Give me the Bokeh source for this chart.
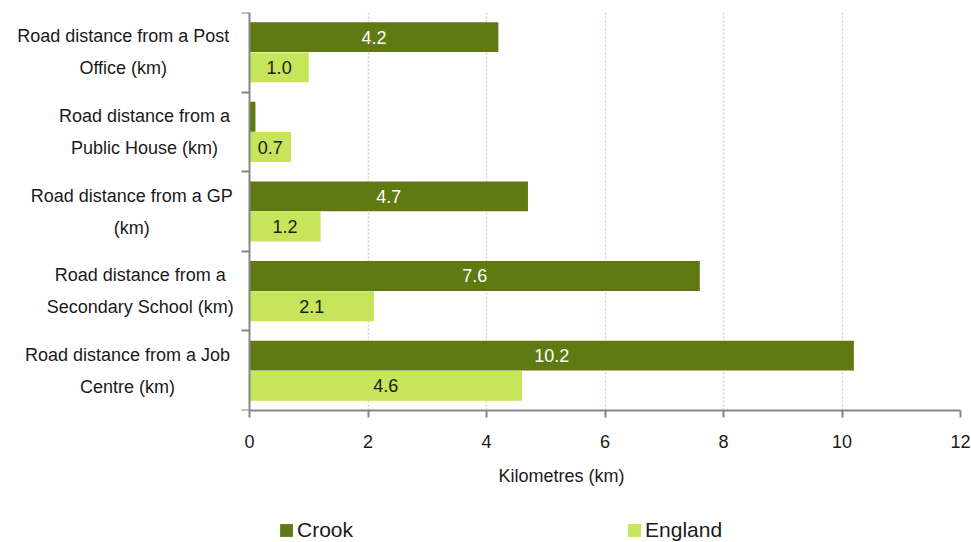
from bokeh.plotting import figure
from bokeh.models import (ColumnDataSource, FixedTicker, Legend, LegendItem,
                          LinearAxis, Range1d)
from bokeh.layouts import column
from bokeh.embed import file_html
from bokeh.resources import INLINE
from bokeh.core.properties import value

# ---- data ----
categories = [
    "Road distance from a Post\nOffice (km)",
    "Road distance from a\nPublic House (km)",
    "Road distance from a GP\n(km)",
    "Road distance from a\nSecondary School (km)",
    "Road distance from a Job\nCentre (km)",
]
crook = [4.2, 0.1, 4.7, 7.6, 10.2]
england = [1.0, 0.7, 1.2, 2.1, 4.6]
series = ["Crook", "England"]
x_ticks = [0, 2, 4, 6, 8, 10, 12]
x_title = "Kilometres (km)"

# ---- style / layout ----
FONT = "Liberation Sans"
CROOK_COLOR = "#5f7a13"
ENG_COLOR = "#c6e55b"
AXIS_COLOR = "#868686"
GRID_COLOR = "#d8d3b6"
TEXT_COLOR = "#1a1a1a"

W = 971
PLOT_LEFT_PX = 249          # where x = 0 sits
PLOT_RIGHT_PX = 960         # where x = 12 sits
H1 = 460                    # main figure height
H2 = 542 - H1               # legend / title strip
px_per_km = (PLOT_RIGHT_PX - PLOT_LEFT_PX) / (x_ticks[-1] - x_ticks[0])
x_start = x_ticks[0] - PLOT_LEFT_PX / px_per_km

n = len(categories)
centers = [n - 1 - i + 0.5 for i in range(n)]
off = 0.19
bar_h = 0.375
CHAR_W = 8.5                # approx. px per char of the category font


def make_source(vals, sign):
    return ColumnDataSource(dict(
        y=[c + sign * off for c in centers],
        right=vals,
        lx=[v / 2 for v in vals],
        label=[f"{v:.1f}" if v >= 0.5 else "" for v in vals],
    ))


src_c = make_source(crook, +1)
src_e = make_source(england, -1)

x_range = Range1d(x_start, x_ticks[-1])

p = figure(width=W, height=H1, x_range=x_range, y_range=(0, n),
           output_backend="svg", toolbar_location=None, y_axis_location=None,
           min_border_left=0, min_border_right=W - PLOT_RIGHT_PX,
           min_border_top=12, min_border_bottom=H1 - 410)
p.outline_line_color = None

p.hbar(y="y", left=0, right="right", height=bar_h, source=src_c,
       fill_color=CROOK_COLOR, line_color=None)
p.hbar(y="y", left=0, right="right", height=bar_h, source=src_e,
       fill_color=ENG_COLOR, line_color=None)

p.text(x="lx", y="y", text="label", source=src_c, text_align="center",
       text_baseline="middle", text_color="white",
       text_font=value(FONT), text_font_size="18px")
p.text(x="lx", y="y", text="label", source=src_e, text_align="center",
       text_baseline="middle", text_color=TEXT_COLOR,
       text_font=value(FONT), text_font_size="18px")

# category labels (block right edge ~20px left of the axis, lines centred)
cat_src = ColumnDataSource(dict(
    x=[0] * n, y=centers, text=categories,
    xo=[-(20 + CHAR_W * max(len(s) for s in c.split("\n")) / 2)
        for c in categories],
))
p.text(x="x", y="y", text="text", x_offset="xo", source=cat_src,
       text_align="center", text_baseline="middle", text_color=TEXT_COLOR,
       text_font=value(FONT), text_font_size="18px", text_line_height=1.6)

# grid
p.ygrid.visible = False
p.xgrid.ticker = FixedTicker(ticks=x_ticks[1:])
p.xgrid.grid_line_color = GRID_COLOR
p.xgrid.grid_line_dash = "2 2"
p.xgrid.grid_line_width = 1.5

# x axis
xa = p.xaxis[0]
xa.bounds = (x_ticks[0], x_ticks[-1])
xa.ticker = FixedTicker(ticks=x_ticks, minor_ticks=[])
xa.axis_line_color = AXIS_COLOR
xa.axis_line_width = 2
xa.major_tick_line_color = AXIS_COLOR
xa.major_tick_line_width = 2
xa.major_tick_out = 7
xa.major_tick_in = 0
xa.minor_tick_out = 0
xa.minor_tick_in = 0
xa.major_label_text_font = FONT
xa.major_label_text_font_size = "18px"
xa.major_label_text_color = TEXT_COLOR
xa.major_label_standoff = 17

# y axis drawn at x = 0
ya = LinearAxis(fixed_location=0,
                ticker=FixedTicker(ticks=[], minor_ticks=list(range(n + 1))))
ya.axis_line_color = AXIS_COLOR
ya.axis_line_width = 2
ya.major_tick_out = 0
ya.major_tick_in = 0
ya.minor_tick_out = 8
ya.minor_tick_in = 0
ya.minor_tick_line_color = AXIS_COLOR
ya.minor_tick_line_width = 2
ya.major_label_text_font_size = "0px"
p.add_layout(ya, "left")

# ---- strip below: axis title + legend ----
q = figure(width=W, height=H2, x_range=x_range, y_range=(0, H2),
           output_backend="svg", toolbar_location=None,
           x_axis_location=None, y_axis_location=None,
           min_border_left=0, min_border_right=W - PLOT_RIGHT_PX,
           min_border_top=0, min_border_bottom=0)
q.outline_line_color = None
q.xgrid.visible = False
q.ygrid.visible = False

title_src = ColumnDataSource(dict(x=[x_start + 561 / px_per_km], y=[H2 - 15],
                                  text=[x_title]))
q.text(x="x", y="y", text="text", source=title_src, text_align="center",
       text_baseline="middle", text_color=TEXT_COLOR,
       text_font=value(FONT), text_font_size="18px")

# hidden copies of the series, only used as legend glyph sources
l1 = q.hbar(y="y", left=0, right="right", height=bar_h, source=src_c,
            fill_color=CROOK_COLOR, line_color=None, visible=False)
l2 = q.hbar(y="y", left=0, right="right", height=bar_h, source=src_e,
            fill_color=ENG_COLOR, line_color=None, visible=False)

legend = Legend(items=[LegendItem(label=series[0], renderers=[l1]),
                       LegendItem(label=series[1], renderers=[l2])],
                orientation="horizontal", location=(278, 0),
                spacing=273, glyph_width=16, glyph_height=16,
                label_standoff=3, padding=0, margin=0,
                border_line_color=None, background_fill_alpha=0,
                inactive_fill_alpha=0,
                label_text_font=FONT, label_text_font_size="21px",
                label_text_color=TEXT_COLOR)
q.add_layout(legend)

layout = column(p, q, spacing=0)
open("out.html", "w").write(file_html(layout, INLINE))
